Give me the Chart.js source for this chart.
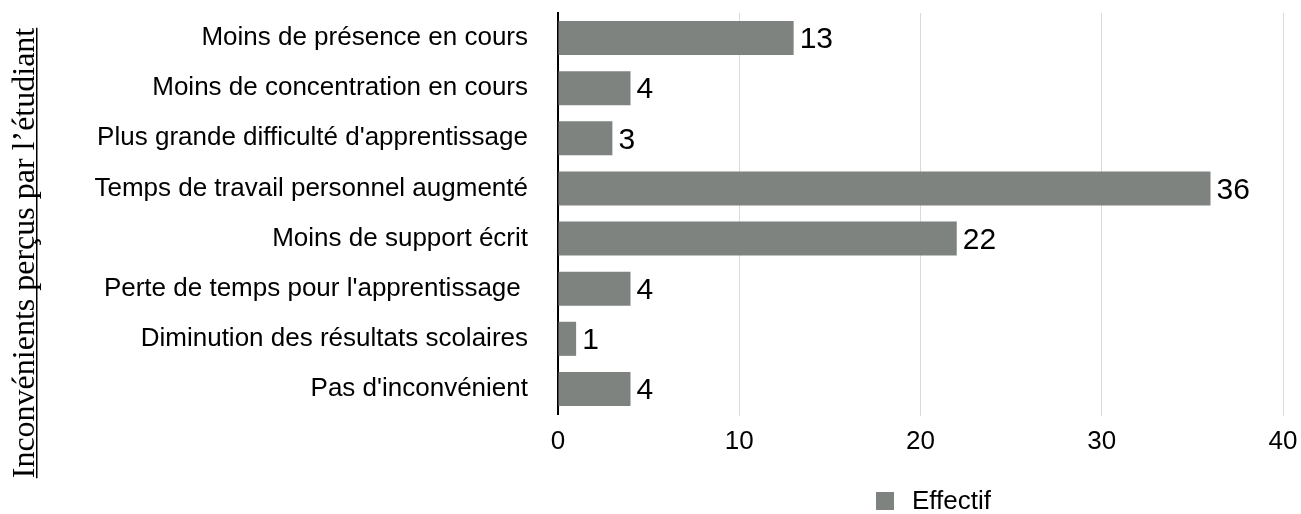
<!DOCTYPE html>
<html>
<head>
<meta charset="utf-8">
<script src="https://cdn.jsdelivr.net/npm/chart.js@4"></script>
<style>
    html, body { margin: 0; padding: 0; background: #fff; }
    #wrap { width: 1301px; height: 514px; }
</style>
</head>
<body>
<div id="wrap"><canvas id="chart1" width="1301" height="514"></canvas></div>
<script>
let categories = [
    "Moins de présence en cours",
    "Moins de concentration en cours",
    "Plus grande difficulté d'apprentissage",
    "Temps de travail personnel augmenté",
    "Moins de support écrit",
    "Perte de temps pour l'apprentissage ",
    "Diminution des résultats scolaires",
    "Pas d'inconvénient"
];
let effectif = [13, 4, 3, 36, 22, 4, 1, 4];
let seriesName = "Effectif";
let axisTitle = "Inconvénients perçus par l\u2019étudiant";
let xTicks = [0, 10, 20, 30, 40];

let barColor = "#7e8380",
    sans = "'Liberation Sans', Arial, Helvetica, sans-serif";

//valeurs à droite des barres + titre vertical + légende
let extras = {
    id: "extras",
    afterDatasetsDraw(chart) {
        let ctx = chart.ctx;
        let meta = chart.getDatasetMeta(0);
        ctx.save();
        ctx.font = "30px " + sans;
        ctx.fillStyle = "#000";
        ctx.textAlign = "left";
        ctx.textBaseline = "middle";
        meta.data.forEach((bar, i) => {
            ctx.fillText(String(effectif[i]), bar.x + 6, bar.y + 2);
        });
        ctx.restore();
    },
    afterDraw(chart) {
        let ctx = chart.ctx;
        // titre
        ctx.save();
        ctx.translate(34, 253);
        ctx.rotate(-Math.PI / 2);
        ctx.font = "32px 'Liberation Serif', 'Times New Roman', serif";
        ctx.fillStyle = "#000";
        ctx.textAlign = "center";
        ctx.textBaseline = "alphabetic";
        ctx.fillText(axisTitle, 0, 0);
        let w = ctx.measureText(axisTitle).width;
        ctx.fillRect(-w / 2, 2, w, 1.5);
        ctx.restore();
        // légende
        ctx.save();
        ctx.fillStyle = barColor;
        ctx.fillRect(876, 492, 18, 18);
        ctx.font = "26px " + sans;
        ctx.fillStyle = "#000";
        ctx.textBaseline = "middle";
        ctx.fillText(seriesName, 912, 502);
        ctx.restore();
    }
};

let chart1 = new Chart(document.getElementById("chart1").getContext("2d"), {
    type: "bar",
    data: {
        labels: categories,
        datasets: [{
            label: seriesName,
            data: effectif,
            backgroundColor: barColor,
            borderWidth: 0,
            barPercentage: 0.68,
            categoryPercentage: 1
        }]
    },
    options: {
        indexAxis: "y",
        responsive: false,
        animation: false,
        layout: { padding: { top: 13, right: 18, bottom: 0, left: 0 } },
        plugins: {
            legend: { display: false },
            tooltip: { enabled: false }
        },
        scales: {
            x: {
                min: 0,
                max: 40,
                afterBuildTicks(scale) {
                    scale.ticks = xTicks.map(v => ({ value: v }));
                },
                afterFit(scale) {
                    scale.height = 100;
                    scale.paddingLeft = 0;
                    scale.paddingRight = 0;
                },
                grid: {
                    color: ctx => ctx.tick && ctx.tick.value === 0 ? "rgba(0,0,0,0)" : "#d9d9d9",
                    lineWidth: 1,
                    drawTicks: true,
                    tickLength: 2
                },
                border: { display: false },
                ticks: {
                    font: { family: sans, size: 26 },
                    color: "#000",
                    padding: 10
                }
            },
            y: {
                afterFit(scale) {
                    scale.width = 558;
                    scale.paddingTop = 0;
                    scale.paddingBottom = 0;
                },
                grid: { display: false, drawTicks: false },
                border: { display: true, color: "#000", width: 2 },
                ticks: {
                    font: { family: sans, size: 26 },
                    color: "#000",
                    padding: 30
                }
            }
        }
    },
    plugins: [extras]
});
</script>
</body>
</html>
